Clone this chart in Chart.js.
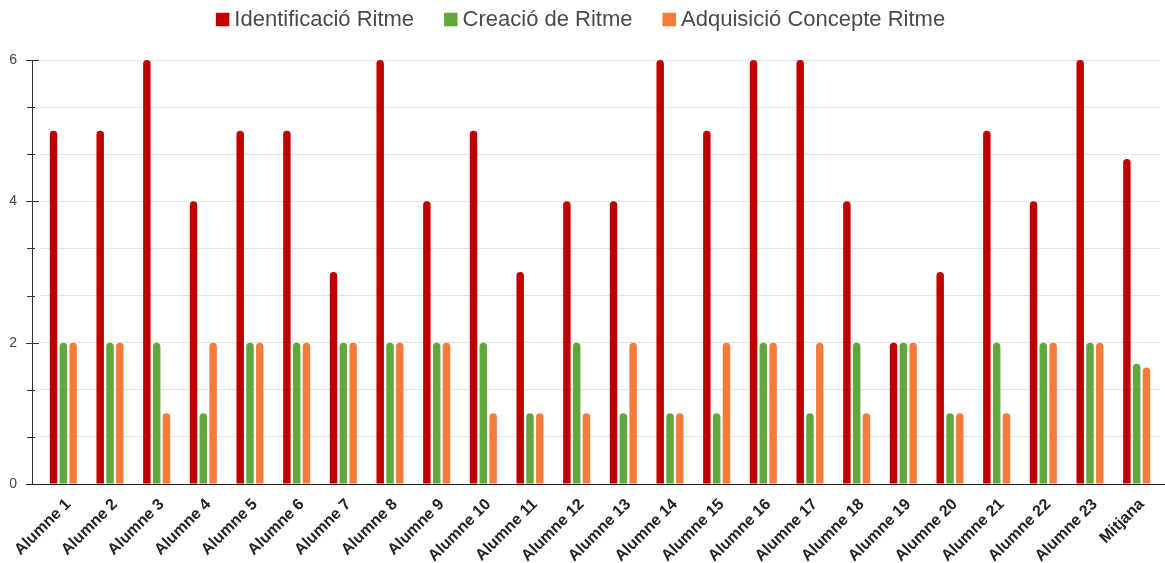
<!DOCTYPE html>
<html>
<head>
<meta charset="utf-8">
<script src="https://cdn.jsdelivr.net/npm/chart.js@4/dist/chart.umd.min.js"></script>
<style>
  html, body { margin: 0; padding: 0; background: #ffffff; }
  #wrap { position: absolute; left: 0; top: 0; width: 1165px; height: 563px; }
</style>
</head>
<body>
<div id="wrap"><canvas id="chart" width="1165" height="563"></canvas></div>
<script>
// Categories: students plus the average column
const categories = [
  'Alumne 1', 'Alumne 2', 'Alumne 3', 'Alumne 4', 'Alumne 5', 'Alumne 6',
  'Alumne 7', 'Alumne 8', 'Alumne 9', 'Alumne 10', 'Alumne 11', 'Alumne 12',
  'Alumne 13', 'Alumne 14', 'Alumne 15', 'Alumne 16', 'Alumne 17', 'Alumne 18',
  'Alumne 19', 'Alumne 20', 'Alumne 21', 'Alumne 22', 'Alumne 23', 'Mitjana'
];

// Scores per series
const identificacio = [5, 5, 6, 4, 5, 5, 3, 6, 4, 5, 3, 4, 4, 6, 5, 6, 6, 4, 2, 3, 5, 4, 6, 4.6];
const creacio       = [2, 2, 2, 1, 2, 2, 2, 2, 2, 2, 1, 2, 1, 1, 1, 2, 1, 2, 2, 1, 2, 2, 2, 1.7];
const adquisicio    = [2, 2, 1, 2, 2, 2, 2, 2, 2, 1, 1, 1, 2, 1, 2, 2, 2, 1, 2, 1, 1, 2, 2, 1.65];

const seriesLabels = ['Identificació Ritme', 'Creació de Ritme', 'Adquisició Concepte Ritme'];

// Value axis: labelled ticks (minor gridlines sit between them)
const yTickLabels = [0, 2, 4, 6];

const FONT = '"Liberation Sans", Arial, Helvetica, sans-serif';
const COLORS = ['#c00000', '#62a73b', '#f47b3a'];

// Legend row centred above the plot
const topLegend = {
  id: 'topLegend',
  afterDraw(chart) {
    const ctx = chart.ctx;
    ctx.save();
    ctx.font = '22px ' + FONT;
    ctx.textBaseline = 'middle';
    const box = 13.5, gap = 5, space = 30, cy = 19.5;
    const items = chart.data.datasets.map(ds => ({
      text: ds.label, color: ds.backgroundColor, w: ctx.measureText(ds.label).width
    }));
    let total = 0;
    items.forEach((it, i) => { total += box + gap + it.w + (i ? space : 0); });
    let x = (chart.width - total) / 2 - 2;
    items.forEach(it => {
      ctx.fillStyle = it.color;
      ctx.fillRect(x, cy - box / 2, box, box);
      ctx.fillStyle = '#4a4a4a';
      ctx.fillText(it.text, x + box + gap, cy);
      x += box + gap + it.w + space;
    });
    ctx.restore();
  }
};

// Axis lines and tick marks on the value axis
const axisMarks = {
  id: 'axisMarks',
  afterDatasetsDraw(chart) {
    const ctx = chart.ctx;
    const y = chart.scales.y;
    const area = chart.chartArea;
    const ax = area.left - 8;
    ctx.save();
    ctx.strokeStyle = '#333333';
    ctx.lineWidth = 1;
    ctx.beginPath();
    ctx.moveTo(ax + 0.5, y.getPixelForValue(y.max));
    ctx.lineTo(ax + 0.5, y.getPixelForValue(0));
    ctx.stroke();
    y.ticks.forEach(t => {
      const py = Math.round(y.getPixelForValue(t.value)) + 0.5;
      const major = yTickLabels.some(v => Math.abs(v - t.value) < 1e-6);
      ctx.beginPath();
      if (major) { ctx.moveTo(ax - 6, py); ctx.lineTo(area.left - 1, py); }
      else { ctx.moveTo(ax - 5, py); ctx.lineTo(ax + 3, py); }
      ctx.stroke();
    });
    const py0 = Math.round(y.getPixelForValue(0)) + 0.5;
    ctx.strokeStyle = '#222222';
    ctx.beginPath();
    ctx.moveTo(ax - 6, py0);
    ctx.lineTo(chart.width, py0);
    ctx.stroke();
    ctx.restore();
  }
};

const datasets = [identificacio, creacio, adquisicio].map((values, i) => ({
  label: seriesLabels[i],
  data: values,
  backgroundColor: COLORS[i],
  borderWidth: 0,
  borderRadius: 4,
  categoryPercentage: 0.63,
  barPercentage: 0.76
}));

new Chart(document.getElementById('chart'), {
  type: 'bar',
  data: { labels: categories, datasets },
  plugins: [topLegend, axisMarks],
  options: {
    responsive: false,
    devicePixelRatio: 1,
    animation: false,
    events: [],
    layout: { padding: { top: 60, right: 5, bottom: 0, left: 0 } },
    plugins: { legend: { display: false }, tooltip: { enabled: false } },
    scales: {
      x: {
        grid: { display: false, drawTicks: false },
        border: { display: false },
        ticks: {
          autoSkip: false,
          minRotation: 45,
          maxRotation: 45,
          padding: 11,
          labelOffset: 5,
          color: '#222222',
          font: { family: FONT, size: 16, weight: 'bold' }
        },
        afterFit(scale) { scale.height = 79; }
      },
      y: {
        min: 0,
        max: 6,
        grid: { color: '#e3e3e3', drawTicks: false },
        border: { display: false },
        ticks: {
          count: 10,
          padding: 23,
          color: '#444444',
          font: { family: FONT, size: 14 },
          callback(value) {
            const hit = yTickLabels.find(v => Math.abs(v - value) < 1e-6);
            return hit === undefined ? '' : String(hit);
          }
        },
        afterFit(scale) { scale.width = 40; }
      }
    }
  }
});
</script>
</body>
</html>
